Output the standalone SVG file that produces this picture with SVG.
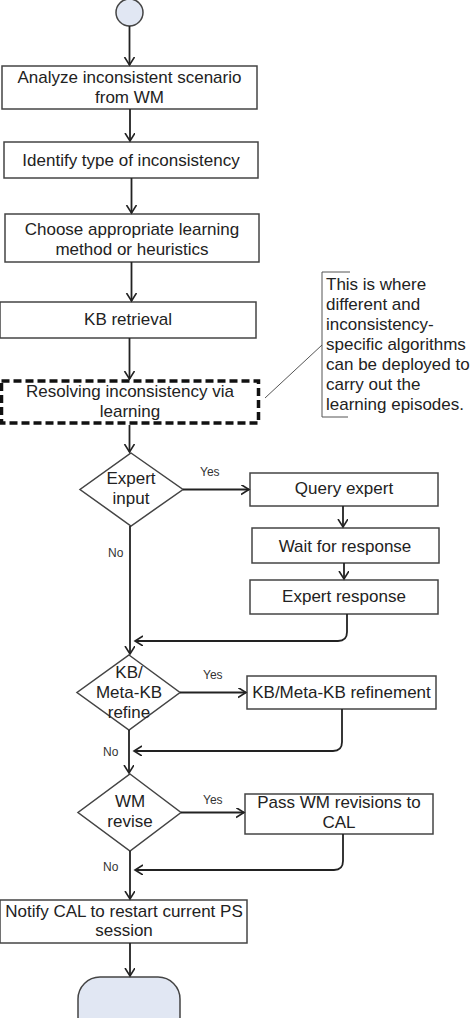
<svg xmlns="http://www.w3.org/2000/svg" width="474" height="1018" viewBox="0 0 474 1018">
<defs>
<marker id="arr" markerUnits="userSpaceOnUse" markerWidth="12" markerHeight="12" refX="8" refY="5" orient="auto">
<path d="M0,0 L8,5 L0,10" fill="none" stroke="#222" stroke-width="1.6"/>
</marker>
<style>
.box{fill:#fff;stroke:#444;stroke-width:1.5}
.term{fill:#e1e7f3;stroke:#444;stroke-width:1.5}
.dash{fill:#fff;stroke:#111;stroke-width:3.5;stroke-dasharray:8 4}
.t{font-family:"Liberation Sans",Arial,sans-serif;font-size:17px;fill:#222;text-anchor:middle}
.a{font-family:"Liberation Sans",Arial,sans-serif;font-size:17px;fill:#222}
.s{font-family:"Liberation Sans",Arial,sans-serif;font-size:12px;fill:#333}
.c{fill:none;stroke:#222;stroke-width:1.8}
.thin{fill:none;stroke:#555;stroke-width:1}
</style>
</defs>
<rect width="474" height="1018" fill="#fff"/>

<g id="start"><circle class="term" cx="129.5" cy="12.5" r="13.5"/></g>

<g id="n1"><rect class="box" x="2" y="66" width="255" height="43"/>
<text class="t" x="129.5" y="83">Analyze inconsistent scenario</text>
<text class="t" x="129.5" y="103">from WM</text></g>

<g id="n2"><rect class="box" x="4" y="142" width="254" height="36"/>
<text class="t" x="131" y="166">Identify type of inconsistency</text></g>

<g id="n3"><rect class="box" x="5" y="214" width="254" height="48"/>
<text class="t" x="132" y="235">Choose appropriate learning</text>
<text class="t" x="132" y="255">method or heuristics</text></g>

<g id="n4"><rect class="box" x="0" y="302" width="256" height="36"/>
<text class="t" x="128" y="325">KB retrieval</text></g>

<g id="n5"><rect class="dash" x="1.5" y="381" width="257" height="42"/>
<text class="t" x="130" y="397">Resolving inconsistency via</text>
<text class="t" x="130" y="417">learning</text></g>

<g id="note"><path class="thin" d="M350,272 H322 V417 H348"/>
<line class="thin" x1="322" y1="345" x2="265" y2="398"/>
<text class="a" x="326" y="290">This is where</text>
<text class="a" x="326" y="310">different and</text>
<text class="a" x="326" y="330">inconsistency-</text>
<text class="a" x="326" y="350">specific algorithms</text>
<text class="a" x="326" y="370">can be deployed to</text>
<text class="a" x="326" y="390">carry out the</text>
<text class="a" x="326" y="410">learning episodes.</text></g>

<g id="d1"><polygon class="box" points="131,453 183,489.5 131,526 80,489.5"/>
<text class="t" x="131" y="484">Expert</text>
<text class="t" x="131" y="504">input</text></g>

<g id="n6"><rect class="box" x="250" y="473" width="188" height="33"/>
<text class="t" x="344" y="494">Query expert</text></g>

<g id="n7"><rect class="box" x="252" y="528" width="187" height="35"/>
<text class="t" x="345" y="552">Wait for response</text></g>

<g id="n8"><rect class="box" x="250" y="580" width="188" height="34"/>
<text class="t" x="344" y="602">Expert response</text></g>

<g id="d2"><polygon class="box" points="129,655 180,692.5 129,730 77,692.5"/>
<text class="t" x="129" y="678">KB/</text>
<text class="t" x="129" y="698">Meta-KB</text>
<text class="t" x="129" y="718">refine</text></g>

<g id="n9"><rect class="box" x="247" y="676" width="189" height="33"/>
<text class="t" x="341.5" y="698">KB/Meta-KB refinement</text></g>

<g id="d3"><polygon class="box" points="130,774 181,812.5 130,851 78,812.5"/>
<text class="t" x="130" y="807">WM</text>
<text class="t" x="130" y="827">revise</text></g>

<g id="n10"><rect class="box" x="245" y="794" width="188" height="40"/>
<text class="t" x="339" y="808">Pass WM revisions to</text>
<text class="t" x="339" y="828">CAL</text></g>

<g id="n11"><rect class="box" x="0" y="900" width="247" height="43"/>
<text class="t" x="124" y="917">Notify CAL to restart current PS</text>
<text class="t" x="124" y="936">session</text></g>

<g id="end"><rect class="term" x="78" y="977" width="102" height="62" rx="22"/></g>

<g id="connectors">
<line class="c" x1="129.5" y1="26" x2="129.5" y2="65" marker-end="url(#arr)"/>
<line class="c" x1="130" y1="109" x2="130" y2="141" marker-end="url(#arr)"/>
<line class="c" x1="131.5" y1="178" x2="131.5" y2="213" marker-end="url(#arr)"/>
<line class="c" x1="131.5" y1="262" x2="131.5" y2="301" marker-end="url(#arr)"/>
<line class="c" x1="129.5" y1="338" x2="129.5" y2="379" marker-end="url(#arr)"/>
<line class="c" x1="129.5" y1="425" x2="129.5" y2="452" marker-end="url(#arr)"/>
<line class="c" x1="183" y1="489.5" x2="249" y2="489.5" marker-end="url(#arr)"/>
<line class="c" x1="343" y1="506" x2="343" y2="527" marker-end="url(#arr)"/>
<line class="c" x1="344" y1="563" x2="344" y2="579" marker-end="url(#arr)"/>
<path class="c" d="M347,614 V632 Q347,641 338,641 H135" marker-end="url(#arr)"/>
<line class="c" x1="130" y1="526" x2="130" y2="654" marker-end="url(#arr)"/>
<line class="c" x1="180" y1="692.5" x2="246" y2="692.5" marker-end="url(#arr)"/>
<path class="c" d="M342,709 V742 Q342,751 333,751 H134" marker-end="url(#arr)"/>
<line class="c" x1="129" y1="730" x2="129" y2="773" marker-end="url(#arr)"/>
<line class="c" x1="181" y1="812.5" x2="244" y2="812.5" marker-end="url(#arr)"/>
<path class="c" d="M343,834 V861 Q343,870 334,870 H135" marker-end="url(#arr)"/>
<line class="c" x1="130" y1="851" x2="130" y2="899" marker-end="url(#arr)"/>
<line class="c" x1="130" y1="943" x2="130" y2="976" marker-end="url(#arr)"/>
<text class="s" x="200" y="476">Yes</text>
<text class="s" x="108" y="557">No</text>
<text class="s" x="203" y="679">Yes</text>
<text class="s" x="103" y="756">No</text>
<text class="s" x="203" y="804">Yes</text>
<text class="s" x="103" y="871">No</text>
</g>
</svg>
